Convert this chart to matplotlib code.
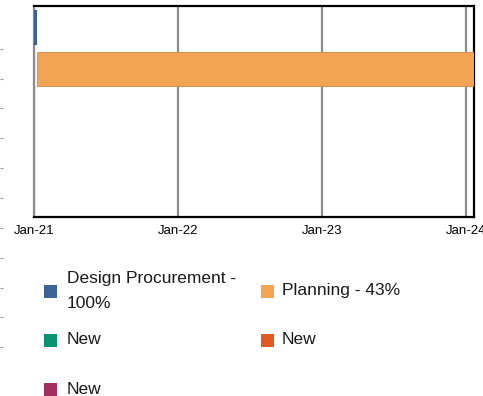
import matplotlib
matplotlib.use("Agg")
import matplotlib.pyplot as plt
import matplotlib.dates as mdates
from matplotlib.patches import Rectangle
import numpy as np
import pandas as pd

plt.rcParams['font.family'] = ['Liberation Sans', 'DejaVu Sans']

# ---- data ----
tasks = ["Design Procurement -\n100%", "Planning - 43%", "New", "New", "New"]
starts = ["2020-06-01", "2021-01-09", None, None, None]
ends = ["2021-01-05", "2024-06-30", None, None, None]
colors = ["#3b6597", "#f0a454", "#07946f", "#e05a23", "#a32f5f"]
edge_colors = ["#2c4c72", "#d08a42", "#07946f", "#e05a23", "#a32f5f"]
tick_dates = ["2021-01-01", "2022-01-01", "2023-01-01", "2024-01-01"]
x_limits = ["2021-01-01", "2024-01-21"]
stray_ticks_px = [49, 79, 108, 138, 168, 198, 228, 258, 288, 317, 347]

W, H = 483, 396
fig = plt.figure(figsize=(W / 100, H / 100), dpi=100)

ax = fig.add_axes([34 / W, 1 - 216.7 / H, (474 - 34) / W, (216.7 - 5.5) / H])

ypos = np.arange(len(tasks))
for i, (s, e) in enumerate(zip(starts, ends)):
    if s is None:
        continue
    s_num = mdates.date2num(pd.Timestamp(s))
    e_num = mdates.date2num(pd.Timestamp(e))
    ax.barh(ypos[i], e_num - s_num, left=s_num, height=0.8,
            color=colors[i], edgecolor=edge_colors[i], linewidth=0.6, zorder=3)

ax.set_ylim(len(tasks) - 0.5, -0.5)
ax.set_xlim(mdates.date2num(pd.Timestamp(x_limits[0])),
            mdates.date2num(pd.Timestamp(x_limits[1])))
ax.set_xticks([mdates.date2num(pd.Timestamp(d)) for d in tick_dates])
ax.xaxis.set_major_formatter(mdates.DateFormatter("%b-%y"))
ax.tick_params(axis='x', length=0, pad=6, labelsize=9.5, colors="#000000")
ax.set_yticks([])
ax.grid(axis='x', color="#8c8c8c", linewidth=1.6, zorder=1)
ax.set_axisbelow(True)
for side in ["top", "right", "bottom"]:
    ax.spines[side].set_color("#000000")
    ax.spines[side].set_linewidth(1.6)
ax.spines["left"].set_color("#8c8c8c")
ax.spines["left"].set_linewidth(1.6)

# decorative stray ticks on the far left
aux = fig.add_axes([0, 0, 0.01, 1])
aux.set_ylim(H, 0)
aux.set_xlim(0, 1)
aux.set_yticks(stray_ticks_px)
aux.set_yticklabels([])
aux.set_xticks([])
aux.tick_params(axis='y', direction='in', length=2.5, width=0.8, color="#9a9a9a")
for sp in aux.spines.values():
    sp.set_visible(False)
aux.patch.set_visible(False)

# legend (manual grid, two columns)
col_sq_x = [44, 261]
col_tx_x = [67, 282]
row_cy = [291, 340, 389]
sq = 13
for i, (lab, c) in enumerate(zip(tasks, colors)):
    col, row = i % 2, i // 2
    cx, cy = col_sq_x[col], row_cy[row]
    fig.patches.append(Rectangle((cx / W, 1 - (cy + sq / 2) / H), sq / W, sq / H,
                                 transform=fig.transFigure, facecolor=c,
                                 edgecolor='none'))
    fig.text(col_tx_x[col] / W, 1 - cy / H, lab, fontsize=12.5, va='center',
             ha='left', color="#1a1a1a", linespacing=1.75)

fig.savefig("out.png", dpi=100)
